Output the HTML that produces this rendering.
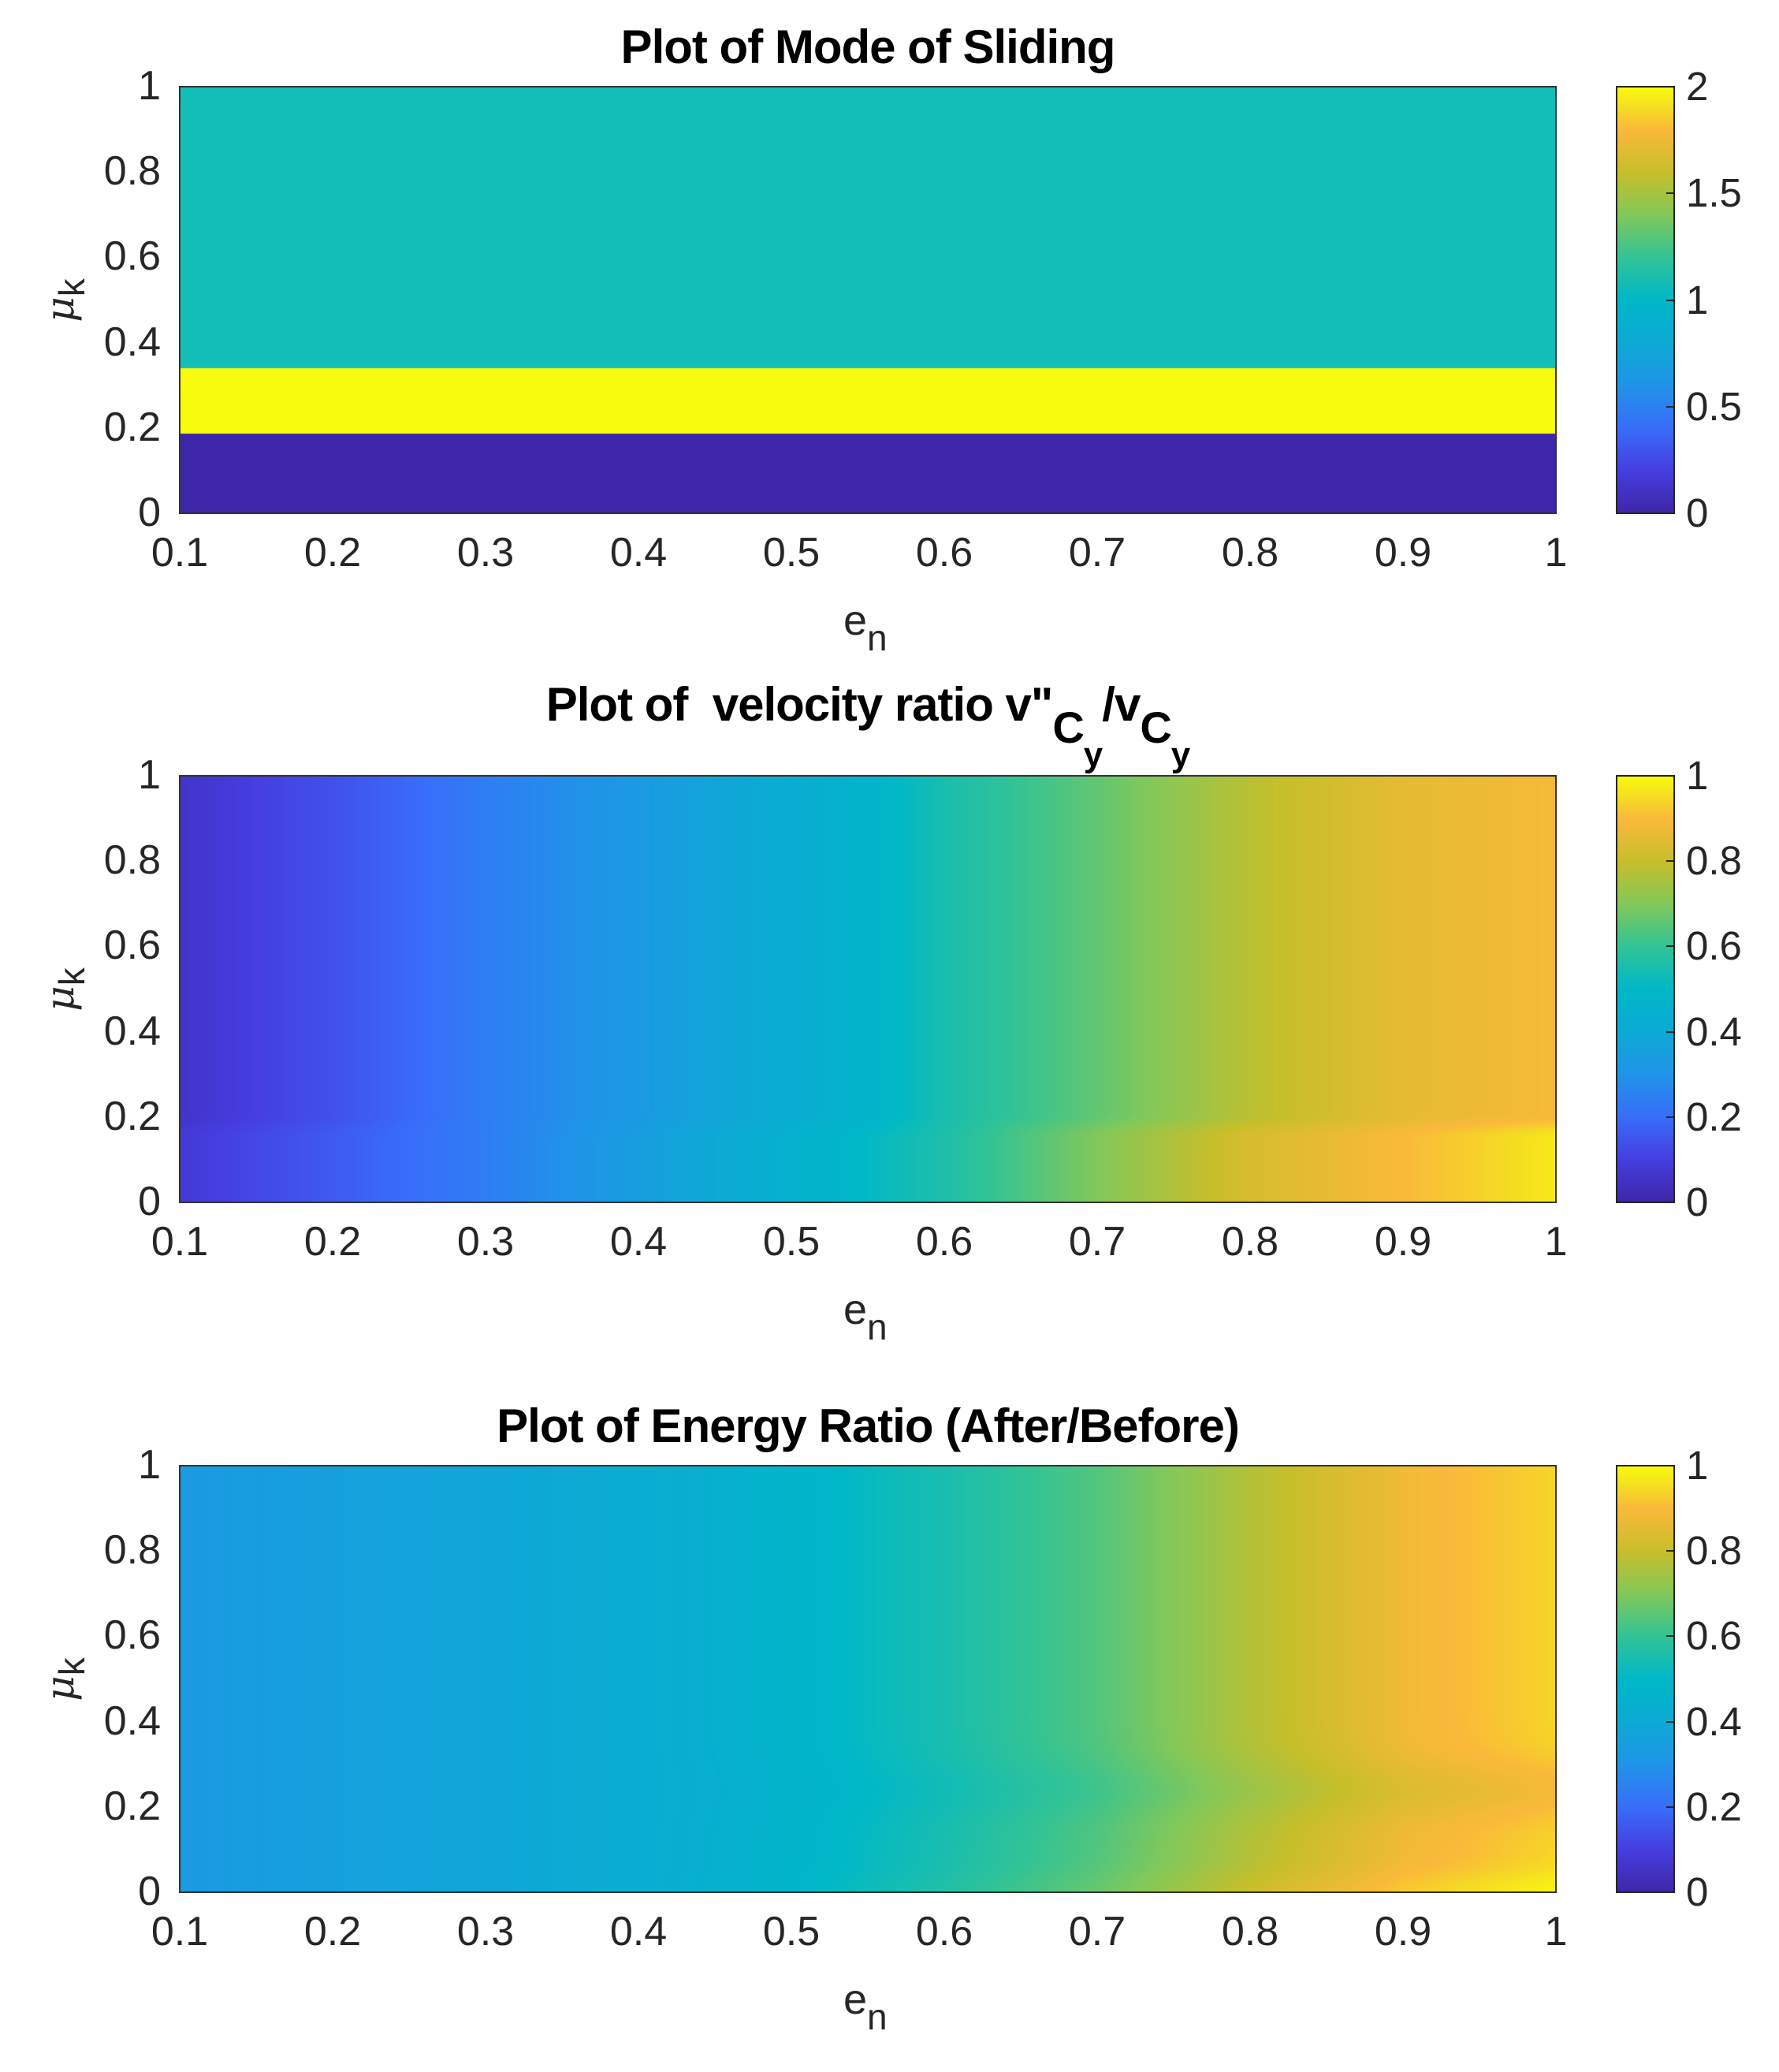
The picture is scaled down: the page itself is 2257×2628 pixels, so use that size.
<!DOCTYPE html>
<html><head><meta charset="utf-8">
<style>
body{margin:0;background:#fff;width:2257px;height:2628px;position:relative;overflow:hidden;font-family:"Liberation Sans",Arial,sans-serif;color:#262626}
.t{position:absolute;white-space:nowrap}
.title{font-weight:bold;font-size:60px;color:#000;transform:translateX(-50%);letter-spacing:-1px}
.yt{font-size:52px;text-align:right;width:150px}
.xt{font-size:52px;transform:translateX(-50%)}
.ct{font-size:51px}
canvas{position:absolute}
.box{position:absolute;border:2px solid #262626;box-sizing:border-box}
</style></head><body>
<script>
var P=[[0,62,38,168],[0.1,70,62,225],[0.2,56,110,250],[0.3,32,148,232],[0.4,12,170,212],[0.5,0,184,200],[0.6,50,195,150],[0.7,130,200,90],[0.8,200,190,42],[0.9,250,185,58],[0.95,245,220,35],[1,249,251,14]];
function par(v){v=Math.max(0,Math.min(1,v));for(var i=1;i<P.length;i++){if(v<=P[i][0]){var a=P[i-1],b=P[i],t=(v-a[0])/(b[0]-a[0]);return[a[1]+(b[1]-a[1])*t,a[2]+(b[2]-a[2])*t,a[3]+(b[3]-a[3])*t];}}return[249,251,14];}
function interp(pts,x){for(var i=1;i<pts.length;i++){if(x<=pts[i][0]){var a=pts[i-1],b=pts[i],t=(x-a[0])/(b[0]-a[0]);return a[1]+(b[1]-a[1])*t;}}return pts[pts.length-1][1];}
var T2=[[0.1,0.06],[0.2,0.14],[0.3,0.24],[0.4,0.33],[0.5,0.42],[0.55,0.47],[0.6,0.55],[0.7,0.66],[0.8,0.78],[0.9,0.86],[1,0.89]];
var B2=[[0.1,0.08],[0.3,0.24],[0.5,0.45],[0.6,0.56],[0.7,0.7],[0.8,0.83],[0.9,0.9],[1,0.97]];
var T3=[[0.1,0.33],[0.3,0.38],[0.45,0.44],[0.6,0.55],[0.7,0.64],[0.8,0.77],[0.9,0.88],[1,0.94]];
function sm(x){x=Math.max(0,Math.min(1,x));return x*x*(3-2*x);}
var F=[
 function(e,m){return m>0.34?-1:(m>0.187?1:0);},
 function(e,m){var w=sm((0.21-m)/0.06);return interp(T2,e)*(1-w)+interp(B2,e)*w;},
 function(e,m){var g=Math.max(0,(e-0.4)/0.6);return interp(T3,e)-0.05*g*Math.exp(-Math.pow((m-0.24)/0.07,2))+0.05*g*Math.exp(-Math.pow(m/0.05,2));}
];
var root=document.body;
function add(h){root.insertAdjacentHTML('beforeend',h);}
var L=228,R=1974,W=R-L,H=541,CL=2051,CR=2124;
var tops=[110,984,1859];
var titles=['Plot of Mode of Sliding','Plot of &nbsp;velocity ratio v"<span style="font-size:56px;position:relative;top:28px">C<span style="font-size:44px;position:relative;top:30px">y</span></span>/v<span style="font-size:56px;position:relative;top:28px">C<span style="font-size:44px;position:relative;top:30px">y</span></span>','Plot of Energy Ratio (After/Before)'];
var ttop=[-85,-125,-85];
var ctk=[['0','0.5','1','1.5','2'],['0','0.2','0.4','0.6','0.8','1'],['0','0.2','0.4','0.6','0.8','1']];
tops.forEach(function(T,k){
 var c=document.createElement('canvas');c.width=W;c.height=H;c.style.left=L+'px';c.style.top=T+'px';
 var x=c.getContext('2d'),im=x.createImageData(W,H);
 for(var j=0;j<H;j++){var m=1-j/(H-1);for(var i=0;i<W;i++){var e=0.1+0.9*i/(W-1);var v=F[k](e,m);var col=v<0?[20,190,184]:par(v);var p=(j*W+i)*4;im.data[p]=col[0];im.data[p+1]=col[1];im.data[p+2]=col[2];im.data[p+3]=255;}}
 x.putImageData(im,0,0);root.appendChild(c);
 var cb=document.createElement('canvas');cb.width=CR-CL;cb.height=H;cb.style.left=CL+'px';cb.style.top=T+'px';
 var cx=cb.getContext('2d');for(var j=0;j<H;j++){var col=par(1-j/(H-1));cx.fillStyle='rgb('+col.map(Math.round).join(',')+')';cx.fillRect(0,j,CR-CL,1);}
 root.appendChild(cb);
 add('<div class="box" style="left:'+(L-1)+'px;top:'+(T-1)+'px;width:'+(W+2)+'px;height:'+(H+2)+'px;border-color:#333"></div>');
 add('<div class="box" style="left:'+(CL-1)+'px;top:'+(T-1)+'px;width:'+(CR-CL+2)+'px;height:'+(H+2)+'px"></div>');
 add('<div class="t title" style="left:1101px;top:'+(T+ttop[k])+'px">'+titles[k]+'</div>');
 for(var q=0;q<=5;q++){var y=T+H-q*H/5;add('<div class="t yt" style="left:54px;top:'+(y-31)+'px">'+(q==0?'0':q==5?'1':'0.'+(2*q))+'</div>');}
 for(var q=1;q<=10;q++){var xx=L+(q-1)*W/9;add('<div class="t xt" style="left:'+xx+'px;top:'+(T+H+20)+'px">'+(q==10?'1':'0.'+q)+'</div>');}
 var n=ctk[k].length;for(var q=0;q<n;q++){var y=T+H-q*H/(n-1);add('<div class="t ct" style="left:2139px;top:'+(y-30)+'px">'+ctk[k][q]+'</div>');
  add('<div style="position:absolute;left:'+(CR-10)+'px;top:'+(y-1)+'px;width:10px;height:2px;background:#262626"></div>');}
 add('<div class="t" style="left:1070px;top:'+(T+H+105)+'px;font-size:54px">e<span style="font-size:46px;position:relative;top:20px">n</span></div>');
 add('<div class="t" style="left:75px;top:'+(T+H/2)+'px;font-size:54px;transform:translate(-50%,-50%) rotate(-90deg)"><i style="font-family:\'DejaVu Serif\',serif;font-size:50px">μ</i><span style="font-size:46px;position:relative;top:14px">k</span></div>');
});
</script>
</body></html>
